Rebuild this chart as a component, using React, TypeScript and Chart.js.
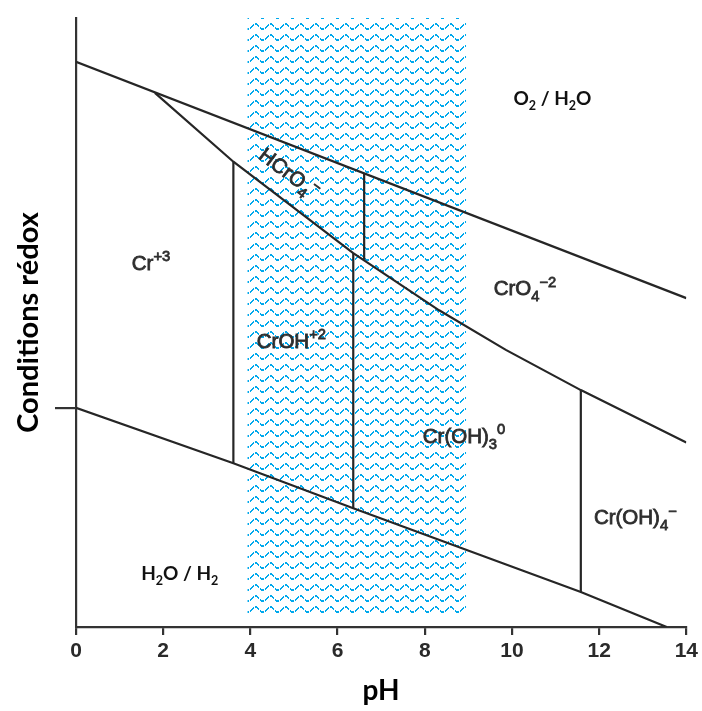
import React, { useEffect, useRef } from 'react';
import { Chart, registerables } from 'chart.js';

Chart.register(...registerables);

// ---- data (pH on x, arbitrary redox scale 0–100 on y) ----
const xTickValues = [0, 2, 4, 6, 8, 10, 12, 14];
const yTickValues = [36.0];

const o2LineX = [0, 14];
const o2LineY = [92.8, 54.0];

const h2LineX = [0, 3.61, 6.36, 11.58, 13.55];
const h2LineY = [36.0, 26.9, 19.5, 5.75, 0];

const crBoundaryX = [1.81, 3.61, 6.36, 8.33, 9.86, 11.58, 14];
const crBoundaryY = [87.7, 76.4, 61.4, 52.0, 45.5, 38.9, 30.3];

const verticalX = [3.61, 6.61, 6.36, 11.58];
const verticalTop = [76.4, 74.5, 61.4, 38.9];
const verticalBottom = [26.9, 60.3, 19.5, 5.75];

const waterBandX = [3.93, 8.95];
const waterBandTop = 100.3;
const waterBandBottom = 2.0;

type Seg = { t: string; v?: 'sub' | 'sup' };
type Label = {
  segs: Seg[];
  x: number;
  y: number;
  kind: 'bold' | 'species';
  angle?: number;
};

const regionLabels: Label[] = [
  { segs: [{ t: 'O' }, { t: '2', v: 'sub' }, { t: ' / H' }, { t: '2', v: 'sub' }, { t: 'O' }], x: 10.93, y: 86.9, kind: 'bold' },
  { segs: [{ t: 'H' }, { t: '2', v: 'sub' }, { t: 'O / H' }, { t: '2', v: 'sub' }], x: 2.38, y: 8.9, kind: 'bold' },
  { segs: [{ t: 'Cr' }, { t: '+3', v: 'sup' }], x: 1.72, y: 59.9, kind: 'species' },
  { segs: [{ t: 'HCrO' }, { t: '4', v: 'sub' }, { t: '−', v: 'sup' }], x: 4.9, y: 74.6, kind: 'species', angle: 37 },
  { segs: [{ t: 'CrOH' }, { t: '+2', v: 'sup' }], x: 4.94, y: 47.1, kind: 'species' },
  { segs: [{ t: 'CrO' }, { t: '4', v: 'sub' }, { t: '−2', v: 'sup' }], x: 10.3, y: 55.7, kind: 'species' },
  { segs: [{ t: 'Cr(OH)' }, { t: '3', v: 'sub' }, { t: '0', v: 'sup' }], x: 8.9, y: 31.5, kind: 'species' },
  { segs: [{ t: 'Cr(OH)' }, { t: '4', v: 'sub' }, { t: '−', v: 'sup' }], x: 12.83, y: 18.1, kind: 'species' },
];

const LINE = '#262626';

function drawRich(ctx: CanvasRenderingContext2D, lab: Label, cx: number, cy: number) {
  const bold = lab.kind === 'bold';
  const size = bold ? 19 : 20.5;
  const family = bold ? 'Lato, "Open Sans", sans-serif' : '"Liberation Sans", Arial, sans-serif';
  const weight = bold ? 'bold' : 'normal';
  const fontFor = (s: number) => `${weight} ${s}px ${family}`;
  const parts = lab.segs.map((s) => {
    const fs = s.v ? size * (bold ? 0.66 : 0.72) : size;
    ctx.font = fontFor(fs);
    return { ...s, fs, w: ctx.measureText(s.t).width };
  });
  const total = parts.reduce((a, p) => a + p.w, 0);
  ctx.save();
  ctx.translate(cx, cy);
  if (lab.angle) ctx.rotate((lab.angle * Math.PI) / 180);
  ctx.fillStyle = bold ? '#111' : '#2e2e2e';
  ctx.strokeStyle = '#2e2e2e';
  ctx.lineWidth = 0.8;
  ctx.textBaseline = 'alphabetic';
  ctx.textAlign = 'left';
  let px = -total / 2;
  const base = size * 0.36;
  for (const p of parts) {
    ctx.font = fontFor(p.fs);
    const dy = p.v === 'sub' ? size * 0.3 : p.v === 'sup' ? -size * 0.4 : 0;
    ctx.fillText(p.t, px, base + dy);
    if (!bold) ctx.strokeText(p.t, px, base + dy);
    px += p.w;
  }
  ctx.restore();
}

const labelPlugin = {
  id: 'regionLabels',
  afterDatasetsDraw(chart: any) {
    const { ctx, scales } = chart;
    regionLabels.forEach((l) => {
      drawRich(ctx, l, scales.x.getPixelForValue(l.x), scales.y.getPixelForValue(l.y));
    });
  },
};

function makeWavePattern(): CanvasPattern | string {
  const c = document.createElement('canvas');
  c.width = 15;
  c.height = 11;
  const g = c.getContext('2d');
  if (!g) return 'rgba(0,174,239,0.4)';
  g.fillStyle = '#00a8ec';
  for (let x = 0; x < 15; x++) {
    if (x % 5 === 4) continue;
    const y = Math.round(2.5 - 2.5 * Math.cos((2 * Math.PI * x) / 15));
    g.fillRect(x, y + 1, 1, 2);
  }
  return g.createPattern(c, 'repeat') || '#9fdcf5';
}

const pts = (xs: number[], ys: number[]) => xs.map((x, i) => ({ x, y: ys[i] }));

export default function App() {
  const ref = useRef<HTMLCanvasElement | null>(null);

  useEffect(() => {
    if (!ref.current) return;
    const lineDs = (data: { x: number; y: number }[]) => ({
      data,
      borderColor: LINE,
      borderWidth: 2.2,
      pointRadius: 0,
      fill: false,
      tension: 0,
    });
    const verticals = verticalX.map((x, i) =>
      lineDs([
        { x, y: verticalTop[i] },
        { x, y: verticalBottom[i] },
      ])
    );
    const chart = new Chart(ref.current, {
      type: 'line',
      data: {
        datasets: [
          lineDs(pts(o2LineX, o2LineY)),
          lineDs(pts(h2LineX, h2LineY)),
          lineDs(pts(crBoundaryX, crBoundaryY)),
          ...verticals,
          {
            data: [
              { x: waterBandX[0], y: waterBandTop },
              { x: waterBandX[1], y: waterBandTop },
            ],
            borderWidth: 0,
            borderColor: 'rgba(0,0,0,0)',
            pointRadius: 0,
            backgroundColor: makeWavePattern(),
            fill: { value: waterBandBottom },
          } as any,
        ],
      },
      options: {
        responsive: false,
        animation: false,
        devicePixelRatio: 1,
        layout: { padding: { top: 18, right: 14, left: 0, bottom: 0 } },
        plugins: { legend: { display: false }, tooltip: { enabled: false } },
        events: [],
        scales: {
          x: {
            type: 'linear',
            min: 0,
            max: 14,
            afterBuildTicks: (s: any) => {
              s.ticks = xTickValues.map((v) => ({ value: v }));
            },
            afterFit: (s: any) => {
              s.height = 84;
            },
            grid: { drawOnChartArea: false, drawTicks: true, tickLength: 8, color: '#333', lineWidth: 2.2 },
            border: { display: true, color: '#333', width: 2.2 },
            ticks: {
              color: '#2a2a2a',
              padding: 4,
              maxRotation: 0,
              font: { family: '"Liberation Sans Narrow", "Liberation Sans", Arial, sans-serif', weight: 'bold', size: 21 },
            },
            title: {
              display: true,
              text: 'pH',
              color: '#000',
              padding: { top: 0, bottom: 3 },
              font: { family: 'Lato, "Open Sans", sans-serif', weight: 'bold', size: 28 },
            },
          },
          y: {
            type: 'linear',
            min: 0,
            max: 100,
            afterBuildTicks: (s: any) => {
              s.ticks = yTickValues.map((v) => ({ value: v }));
            },
            afterFit: (s: any) => {
              s.width = 76;
            },
            grid: { drawOnChartArea: false, drawTicks: true, tickLength: 21, color: '#333', lineWidth: 2.2 },
            border: { display: true, color: '#333', width: 2.2 },
            ticks: { display: false },
            title: {
              display: true,
              text: 'Conditions rédox',
              color: '#000',
              padding: { top: 11, bottom: 0 },
              font: { family: 'Lato, "Open Sans", sans-serif', weight: 'bold', size: 29 },
            },
          },
        },
      },
      plugins: [labelPlugin],
    });
    return () => chart.destroy();
  }, []);

  return (
    <div style={{ position: 'absolute', left: 0, top: 0, width: 702, height: 711, background: '#fff' }}>
      <canvas ref={ref} width={702} height={711} />
    </div>
  );
}
